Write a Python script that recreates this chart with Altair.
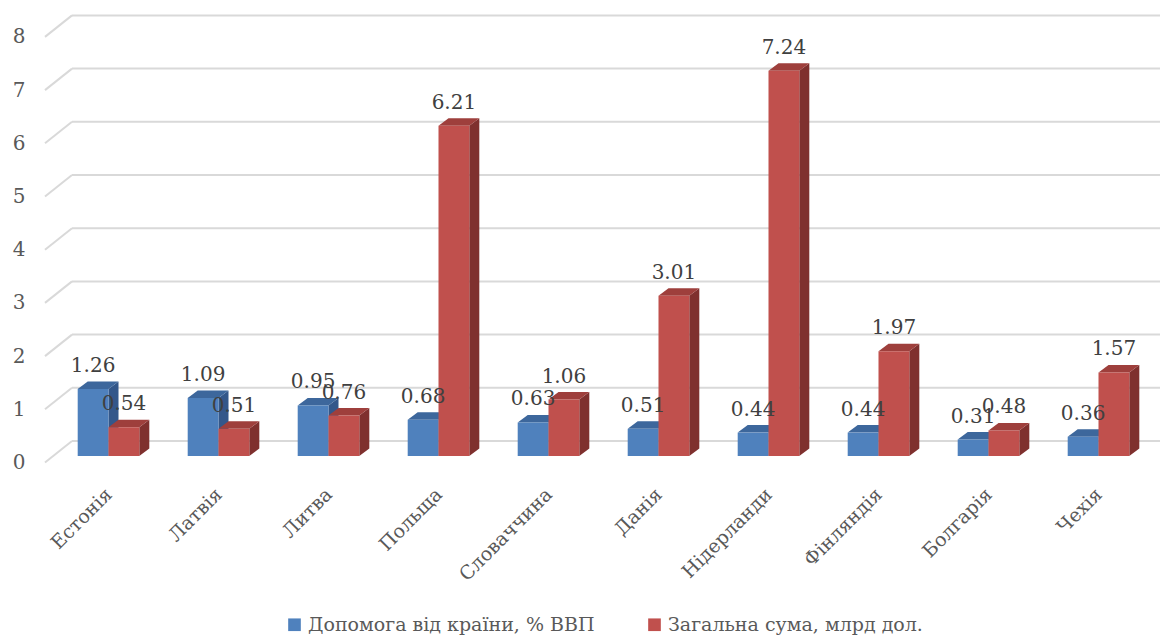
import json
import altair as alt
import pandas as pd

countries = ["Естонія", "Латвія", "Литва", "Польща", "Словаччина",
             "Данія", "Нідерланди", "Фінляндія", "Болгарія", "Чехія"]
aid_pct = [1.26, 1.09, 0.95, 0.68, 0.63, 0.51, 0.44, 0.44, 0.31, 0.36]
total_bn = [0.54, 0.51, 0.76, 6.21, 1.06, 3.01, 7.24, 1.97, 0.48, 1.57]
series_names = ["Допомога від країни, % ВВП", "Загальна сума, млрд дол."]
y_ticks = [0, 1, 2, 3, 4, 5, 6, 7, 8]

# styling / geometry (not data)
FRONT = ["#4F81BD", "#C0504D"]
TOP = ["#3D679C", "#9E3F3C"]
SIDE = ["#33578A", "#7F302E"]
BW = 0.28      # bar width in category steps
DX = 0.091     # 3D depth (category steps)
DY = 0.141     # 3D depth (value units)
FONT = "DejaVu Serif"

rows = []
for i, c in enumerate(countries):
    for s, vals in enumerate([aid_pct, total_bn]):
        rows.append({"idx": i, "country": c, "sidx": s,
                     "series": series_names[s], "value": vals[i]})
df = pd.DataFrame(rows)
ticks_df = pd.DataFrame({"v": y_ticks})

W, H = 1115, 456
x_scale = alt.Scale(domain=[-0.57727, 9.55909], nice=False, zero=False)
y_scale = alt.Scale(domain=[0, 8.5714], nice=False, zero=False)

base = alt.Chart(df).transform_calculate(
    x0=f"datum.idx + (datum.sidx == 0 ? -{BW} : 0)",
    x1=f"datum.idx + (datum.sidx == 0 ? 0 : {BW})",
    xc=f"datum.idx + (datum.sidx == 0 ? -{BW}/2 : {BW}/2)",
    topc=f"datum.sidx == 0 ? '{TOP[0]}' : '{TOP[1]}'",
    sidec=f"datum.sidx == 0 ? '{SIDE[0]}' : '{SIDE[1]}'",
    bar="datum.idx * 2 + datum.sidx",
)

labels_expr = json.dumps(countries, ensure_ascii=False) + "[datum.value]"

grid_back = alt.Chart(ticks_df).mark_rule(color="#D9D9D9", strokeWidth=2, yOffset=-15).encode(
    x=alt.value(27), x2=alt.value(W),
    y=alt.Y("v:Q", scale=y_scale, axis=alt.Axis(
        values=y_ticks, grid=False, ticks=False, domain=False,
        labelFont=FONT, labelFontSize=20, labelColor="#595959",
        labelPadding=20, labelOffset=6.5, title=None)),
)
grid_front = alt.Chart(ticks_df).mark_rule(color="#D9D9D9", strokeWidth=2,
                                            yOffset=6.5, y2Offset=-15).encode(
    x=alt.value(0), x2=alt.value(27),
    y=alt.Y("v:Q", scale=y_scale), y2="v:Q",
)

k2 = base.transform_calculate(k="[0, 1]").transform_flatten(["k"])

sides = k2.transform_calculate(
    sx=f"datum.x1 + datum.k * {DX}",
    sy=f"datum.value + datum.k * {DY}",
    sy2=f"datum.k * {DY}",
).mark_area(orient="vertical").encode(
    x=alt.X("sx:Q", scale=x_scale),
    y=alt.Y("sy:Q", scale=y_scale),
    y2="sy2:Q",
    color=alt.Color("sidec:N", scale=None),
    detail="bar:N",
)

tops = k2.transform_calculate(
    tx=f"datum.x0 + datum.k * {DX}",
    tx2=f"datum.x1 + datum.k * {DX}",
    ty=f"datum.value + datum.k * {DY}",
).mark_area(orient="horizontal").encode(
    y=alt.Y("ty:Q", scale=y_scale),
    x=alt.X("tx:Q", scale=x_scale),
    x2="tx2:Q",
    color=alt.Color("topc:N", scale=None),
    detail="bar:N",
)

fronts = base.mark_rect().encode(
    x=alt.X("x0:Q", scale=x_scale, axis=alt.Axis(
        values=list(range(len(countries))), labelExpr=labels_expr,
        grid=False, ticks=False, domain=False, labelAngle=315,
        labelAlign="right", labelBaseline="middle", labelPadding=35, labelOffset=0,
        labelFont=FONT, labelFontSize=19, labelColor="#595959", title=None)),
    x2="x1:Q",
    y=alt.Y("value:Q", scale=y_scale),
    y2=alt.datum(0),
    color=alt.Color("series:N", scale=alt.Scale(domain=series_names, range=FRONT),
                    sort=series_names,
                    legend=alt.Legend(orient="none", direction="horizontal",
                                      legendX=240, legendY=615, title=None,
                                      symbolType="square", symbolSize=160,
                                      symbolStrokeWidth=0, labelOffset=4,
                                      columnPadding=50, padding=0,
                                      labelFont=FONT, labelFontSize=19,
                                      labelColor="#595959", labelLimit=600)),
)

value_labels = base.mark_text(font=FONT, fontSize=20, color="#404040",
                              baseline="middle", dy=-23).encode(
    x=alt.X("xc:Q", scale=x_scale),
    y=alt.Y("value:Q", scale=y_scale),
    text=alt.Text("value:Q", format=".2f"),
)

chart = alt.layer(grid_back, grid_front, sides, tops, fronts, value_labels).properties(
    width=W, height=H,
    autosize=alt.AutoSizeParams(type="none"),
    padding={"left": 45, "top": 0, "right": 0, "bottom": 184},
    background="white",
).configure_view(stroke=None)

chart.save("out.html", embed_options={"renderer": "svg", "actions": False})
